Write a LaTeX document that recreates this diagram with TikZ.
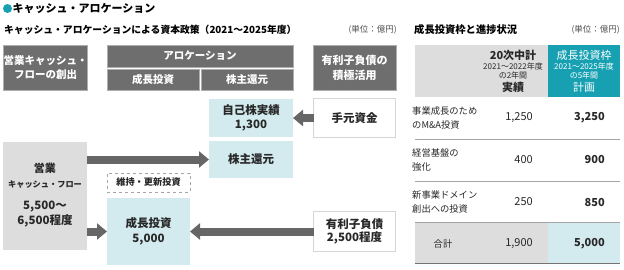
\documentclass[tikz,border=0pt]{standalone}
\usepackage{fontspec}
\setmainfont{Noto Sans CJK JP}
\usetikzlibrary{arrows.meta}
\definecolor{hdrcol}{RGB}{110,110,110}
\definecolor{palecol}{RGB}{221,221,221}
\definecolor{aquacol}{RGB}{211,235,239}
\definecolor{tealcol}{RGB}{22,160,178}
\definecolor{edgecol}{RGB}{214,214,214}
\definecolor{arrowcol}{RGB}{102,102,102}
\definecolor{rulecol}{RGB}{165,165,165}
\definecolor{inkcol}{RGB}{40,40,40}
\newcommand{\fs}[2]{\fontsize{#1}{#2}\selectfont}

\begin{document}
\begin{tikzpicture}[x=1pt, y=-1pt,
  box/.style={inner sep=0pt, outer sep=0pt, align=center},
  hdr/.style={box, fill=hdrcol, draw=black!32, line width=0.8pt, text=white,
              font=\fs{10.5}{14}\bfseries},
  pale/.style={box, fill=aquacol, text=inkcol, font=\fs{11.5}{14.5}\bfseries},
  plain/.style={box, fill=white, draw=edgecol, line width=1.6pt, text=inkcol,
                font=\fs{11.5}{13.5}\bfseries},
  flow/.style={draw=arrowcol, line width=8pt, -{Triangle[length=10pt, width=16pt]}},
  lbl/.style={anchor=west, inner sep=0pt, align=left, text=inkcol,
              font=\fs{9.3}{13.5}},
  val/.style={anchor=east, inner sep=0pt, text=inkcol, font=\fs{11}{12}},
  tiny/.style={inner sep=0pt, align=center, font=\fs{8}{7.2}},
  unit/.style={anchor=east, inner sep=0pt, text=black!70, font=\fs{8.5}{10}}
]
  \useasboundingbox (0,0) rectangle (624,269);

  % titles
  \node[circle, fill=tealcol, minimum size=9pt, inner sep=0pt] (dot) at (7.5,8.5) {};
  \node[anchor=west, inner sep=0pt, font=\fs{11}{13}\bfseries] (title) at (12.5,8.5)
    {キャッシュ・アロケーション};
  \node[anchor=west, inner sep=0pt, font=\fs{9.8}{12}\bfseries] (subl) at (4,30)
    {キャッシュ・アロケーションによる資本政策（2021～2025年度）};
  \node[unit] (unitl) at (397,30) {(単位：億円)};
  \node[anchor=west, inner sep=0pt, font=\fs{10.3}{12}\bfseries] (subr) at (414,30)
    {成長投資枠と進捗状況};
  \node[unit] (unitr) at (620,30) {(単位：億円)};

  % column heads
  \node[hdr, minimum width=83pt, minimum height=45pt] (hcf) at (45.5,67.5)
    {営業キャッシュ・\\フローの創出};
  \node[hdr, minimum width=186pt, minimum height=22pt] (halloc) at (200,56)
    {アロケーション};
  \node[hdr, minimum width=92pt, minimum height=21pt] (hgrow) at (153,79.5) {成長投資};
  \node[hdr, minimum width=92pt, minimum height=21pt] (hret) at (247,79.5) {株主還元};
  \node[hdr, minimum width=83pt, minimum height=45pt, font=\fs{11}{15}\bfseries]
    (hdebt) at (354.5,67.5) {有利子負債の\\積極活用};

  % flows
  \node[pale, minimum width=84pt, minimum height=38pt] (buyback) at (251,118)
    {自己株実績\\1,300};
  \node[pale, minimum width=84pt, minimum height=37pt] (ret) at (251,159.5) {株主還元};
  \node[box, fill=palecol, minimum width=84pt, minimum height=108pt] (opcf) at (45,196) {};
  \node[box, text=inkcol, font=\fs{11}{13}\bfseries] (opcfa) at (45,168) {営業};
  \node[box, text=inkcol, font=\fs{8.2}{10}\bfseries] (opcfb) at (45,185) {キャッシュ・フロー};
  \node[box, text=inkcol, font=\fs{11.5}{15}\bfseries] (opcfc) at (45,214.5)
    {5,500～\\6,500程度};
  \node[box, draw=black!35, dashed, line width=0.7pt, text=inkcol,
        font=\fs{9.2}{10}\bfseries, minimum width=83pt, minimum height=19pt]
    (keep) at (148.5,182.5) {維持・更新投資};
  \node[pale, minimum width=83pt, minimum height=67pt] (grow) at (148.5,231.5)
    {成長投資\\5,000};
  \node[plain, minimum width=82pt, minimum height=39pt] (cash) at (354.5,118) {手元資金};
  \node[plain, minimum width=82pt, minimum height=40pt] (debt) at (354.5,231.5)
    {有利子負債\\2,500程度};

  \draw[flow] (opcf.east |- ret.west) -- (ret.west);
  \draw[flow] (opcf.east |- grow.west) -- (grow.west);
  \draw[flow] (cash.west) -- (buyback.east);
  \draw[flow] (debt.west) -- (grow.east);

  % progress table
  \fill[palecol] (415,45) rectangle (548,97);
  \fill[tealcol] (548,45) rectangle (620,97);
  \fill[palecol] (415,222) rectangle (548,263);
  \fill[aquacol] (548,222) rectangle (620,263);
  \node[inner sep=0pt, font=\fs{11}{12}\bfseries, text=inkcol] (pa) at (513,55.5) {20次中計};
  \node[tiny, text=inkcol] (pb) at (513,71) {2021～2022年度\\の2年間};
  \node[inner sep=0pt, font=\fs{11}{12}\bfseries, text=inkcol] (pc) at (513,87.5) {実績};
  \node[inner sep=0pt, font=\fs{11}{12}, text=white] (qa) at (584,55.5) {成長投資枠};
  \node[tiny, text=white] (qb) at (584,71) {2021～2025年度\\の5年間};
  \node[inner sep=0pt, font=\fs{11}{12}, text=white] (qc) at (584,87.5) {計画};

  \node[lbl] (ra) at (412,118) {事業成長のため\\のM\&A投資};
  \node[val] (rax) at (533,118) {1,250};
  \node[val, font=\fs{11}{12}\bfseries] (ray) at (605,118) {3,250};
  \node[lbl] (rb) at (412,160) {経営基盤の\\強化};
  \node[val] (rbx) at (533,160) {400};
  \node[val, font=\fs{11}{12}\bfseries] (rby) at (605,160) {900};
  \node[lbl] (rc) at (412,202) {新事業ドメイン\\創出への投資};
  \node[val] (rcx) at (533,202) {250};
  \node[val, font=\fs{11}{12}\bfseries] (rcy) at (605,202) {850};
  \node[inner sep=0pt, font=\fs{9.3}{12}, text=inkcol] (rd) at (443,244) {合計};
  \node[val] (rdx) at (533,244) {1,900};
  \node[val, font=\fs{11}{12}\bfseries] (rdy) at (605,244) {5,000};

  \draw[rulecol, line width=0.8pt] (415,139.5) -- (620,139.5)
    (415,181) -- (620,181) (415,222) -- (620,222);
  \draw[black!55, line width=1.5pt] (415,263.5) -- (620,263.5);
\end{tikzpicture}
\end{document}
